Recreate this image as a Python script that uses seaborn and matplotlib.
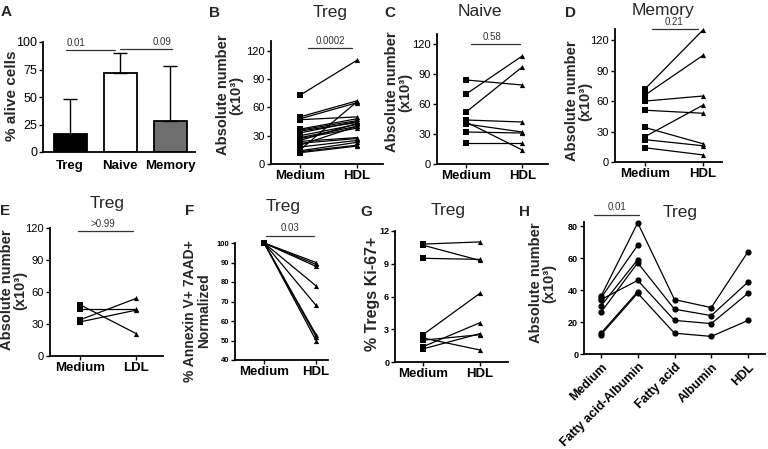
import numpy as np
import pandas as pd
import matplotlib
matplotlib.use("Agg")
import matplotlib.pyplot as plt
import seaborn as sns

sns.set_theme(style="ticks")
plt.rcParams["font.family"] = ["Liberation Sans", "DejaVu Sans"]
NARROW = ["Liberation Sans Narrow", "Liberation Sans", "DejaVu Sans"]
PLAIN = ["Liberation Sans", "DejaVu Sans"]

# ── data ──────────────────────────────────────────────────────────────────────
a_groups = ["Treg", "Naive", "Memory"]
a_mean   = [16.5, 71.5, 28.0]
a_sd     = [31.5, 18.5, 50.5]
a_colors = ["black", "white", "#6e6e6e"]

pair_cats = ["Medium", "HDL"]
ldl_cats  = ["Medium", "LDL"]

b_medium = [73, 50, 48, 47, 37, 36, 35, 33, 30, 28, 27, 25, 24, 22, 20, 18, 15, 14, 13, 12]
b_hdl    = [110, 67, 65, 50, 48, 46, 44, 45, 42, 40, 38, 43, 28, 27, 40, 25, 66, 23, 20, 19]

c_medium = [84, 70, 52, 44, 42, 40, 32, 21]
c_hdl    = [79, 108, 97, 42, 14, 32, 31, 21]

d_medium = [72, 66, 60, 51, 34, 25, 22, 14]
d_hdl    = [130, 105, 65, 48, 18, 56, 16, 7]

e_medium = [48, 44, 34, 32]
e_ldl    = [21, 44, 54, 43]

f_medium = [100, 100, 100, 100, 100, 100, 100, 100]
f_hdl    = [90, 89, 88, 78, 68, 53, 52, 50]

g_medium = [10.8, 10.7, 9.5, 2.5, 2.2, 2.0, 1.4, 1.2]
g_hdl    = [11.0, 9.3, 9.4, 6.3, 1.1, 2.5, 3.6, 2.6]

h_cats   = ["Medium", "Fatty acid-Albumin", "Fatty acid", "Albumin", "HDL"]
h_medium = [36, 35, 34, 30, 26, 13, 12]
h_faalb  = [82, 68, 46, 59, 57, 39, 38]
h_fa     = [34, np.nan, 21, np.nan, 28, np.nan, 13]
h_alb    = [29, np.nan, 19, np.nan, 24, np.nan, 11]
h_hdl    = [64, np.nan, 38, np.nan, 45, np.nan, 21]

# ── layout helpers (pixel coordinates of the 768x449 canvas) ────────────────
W, H = 768, 449
fig = plt.figure(figsize=(W / 100, H / 100), dpi=100)


def ax_at(left, right, top, bottom):
    return fig.add_axes([left / W, 1 - bottom / H, (right - left) / W, (bottom - top) / H])


def ftext(x, y, s, **kw):
    fig.text(x / W, 1 - y / H, s, ha="center", va="center", **kw)


def style(ax, xlim, ylim, yticks, tick_size=8, tick_bold=False, tick_family=NARROW):
    sns.despine(ax=ax)
    for sp in ("left", "bottom"):
        ax.spines[sp].set_linewidth(1.3)
        ax.spines[sp].set_color("black")
    ax.set_xlim(*xlim)
    ax.set_ylim(*ylim)
    ax.set_yticks(yticks)
    ax.set_xlabel("")
    ax.set_ylabel("")
    ax.tick_params(axis="both", length=3, width=1, color="black", pad=1.2)
    for lab in ax.get_yticklabels():
        lab.set_family(tick_family)
        lab.set_fontsize(tick_size)
        lab.set_fontweight("bold" if tick_bold else "normal")
        lab.set_color("black")


def set_xcats(ax, cats, size=9.5, rotation=0):
    ax.set_xticks(range(len(cats)))
    ax.set_xticklabels(cats, fontsize=size, fontweight="bold", color="black",
                       rotation=rotation, ha="right" if rotation else "center",
                       rotation_mode="anchor" if rotation else "default")


def paired(ax, first, second, cats, markers=("s", "^")):
    n = len(first)
    df = pd.DataFrame({
        "id": list(range(n)) * 2,
        "x": [0] * n + [1] * n,
        "val": list(first) + list(second),
    })
    sns.lineplot(data=df, x="x", y="val", units="id", estimator=None,
                 color="black", lw=0.9, ax=ax, legend=False)
    sns.scatterplot(x=[0] * n, y=first, marker=markers[0], s=20, color="black",
                    edgecolor="black", linewidth=0, ax=ax, zorder=3, clip_on=False)
    sns.scatterplot(x=[1] * n, y=second, marker=markers[1], s=14, color="black",
                    edgecolor="black", linewidth=0, ax=ax, zorder=3, clip_on=False)
    set_xcats(ax, cats)
    ax.tick_params(axis="x", pad=4)


def bracket(ax, x0, x1, y, text, tx, ty):
    ax.plot([x0, x1], [y, y], color="#333333", lw=0.9, clip_on=False)
    ax.text(tx, ty, text, ha="center", va="bottom", fontsize=7,
            family=NARROW, color="#333333", clip_on=False)


# ══════════════════════════════════════════════════════════════
# A  — % alive cells
# ══════════════════════════════════════════════════════════════
axA = ax_at(43, 195, 42, 152)
sns.barplot(x=a_groups, y=a_mean, hue=a_groups, palette=a_colors, legend=False,
            edgecolor="black", linewidth=1.3, width=0.66, ax=axA)
axA.errorbar(range(3), a_mean, yerr=[np.zeros(3), a_sd], fmt="none",
             ecolor="black", elinewidth=1.0, capsize=5, capthick=1.0, zorder=1)
style(axA, (-0.54, 2.5), (0, 100), [0, 25, 50, 75, 100], tick_size=9)
set_xcats(axA, a_groups)
axA.tick_params(axis="x", length=0, pad=6)
bracket(axA, -0.08, 0.9, 93, "0.01", 0.12, 94.5)
bracket(axA, 1.0, 2.04, 94, "0.09", 1.84, 95.5)
ftext(12, 96, "% alive cells", fontsize=11, fontweight="bold", rotation=90)

# ══════════════════════════════════════════════════════════════
# B  — Treg, HDL
# ══════════════════════════════════════════════════════════════
axB = ax_at(271, 383, 41.5, 164)
paired(axB, b_medium, b_hdl, pair_cats)
style(axB, (-0.51, 1.46), (0, 130), [0, 30, 60, 90, 120])
bracket(axB, 0.14, 0.91, 123, "0.0002", 0.53, 125)

# C  — Naive
axC = ax_at(437, 548, 34, 164)
paired(axC, c_medium, c_hdl, pair_cats)
style(axC, (-0.52, 1.46), (0, 130), [0, 30, 60, 90, 120])
bracket(axC, 0.09, 0.96, 120, "0.58", 0.46, 122)

# D  — Memory
axD = ax_at(615, 722, 29, 162)
paired(axD, d_medium, d_hdl, pair_cats)
style(axD, (-0.52, 1.33), (0, 131), [0, 30, 60, 90, 120])
bracket(axD, 0.12, 0.91, 131, "0.21", 0.5, 133)

# E  — Treg, LDL
axE = ax_at(50, 163, 228, 356)
paired(axE, e_medium, e_ldl, ldl_cats)
style(axE, (-0.54, 1.48), (0, 120), [0, 30, 60, 90, 120])
bracket(axE, -0.04, 0.95, 117, ">0.99", 0.41, 119)

# F  — Annexin V+ 7AAD+
axF = ax_at(235, 328, 243, 360)
paired(axF, f_medium, f_hdl, pair_cats)
style(axF, (-0.56, 1.23), (40, 100), [40, 50, 60, 70, 80, 90, 100],
      tick_size=5.5, tick_bold=True, tick_family=PLAIN)
bracket(axF, 0.04, 0.96, 103.6, "0.03", 0.5, 105)

# G  — Ki-67+
axG = ax_at(395, 508, 231, 362)
paired(axG, g_medium, g_hdl, pair_cats)
style(axG, (-0.49, 1.49), (0, 12), [0, 3, 6, 9, 12],
      tick_size=6.5, tick_bold=True, tick_family=PLAIN)

# H  — fatty acid / albumin
axH = ax_at(584, 765, 222, 354)
h_series = [h_medium, h_faalb, h_fa, h_alb, h_hdl]
n_h = len(h_medium)
df_h = pd.DataFrame({
    "id": list(range(n_h)) * len(h_cats),
    "x": np.repeat(np.arange(len(h_cats)), n_h),
    "val": np.concatenate([np.asarray(s, dtype=float) for s in h_series]),
}).dropna()
sns.lineplot(data=df_h, x="x", y="val", units="id", estimator=None,
             color="black", lw=0.9, ax=axH, legend=False)
sns.scatterplot(data=df_h, x="x", y="val", marker="o", s=20, color="black",
                linewidth=0, ax=axH, zorder=3, clip_on=False)
style(axH, (-0.46, 4.46), (0, 82.5), [0, 20, 40, 60, 80],
      tick_size=6.5, tick_bold=True, tick_family=PLAIN)
set_xcats(axH, h_cats, size=9, rotation=45)
axH.tick_params(axis="x", pad=2)
bracket(axH, -0.19, 1.03, 87, "0.01", 0.43, 88.5)

# ── y labels ─────────────────────────────────────────────────────────────────
ylab = "Absolute number\n(x10³)"
for x, y in [(230, 95), (399, 92), (579, 101), (14, 290), (543, 283)]:
    ftext(x, y, ylab, fontsize=10.5, fontweight="bold", rotation=90, linespacing=0.95)
ftext(197, 311, "% Annexin V+ 7AAD+\nNormalized", fontsize=10, fontweight="bold",
      rotation=90, linespacing=1.0)
ftext(373, 294, "% Tregs Ki-67+", fontsize=11.5, fontweight="bold", rotation=90)

# ── titles ───────────────────────────────────────────────────────────────────
for x, y, s in [(330, 13, "Treg"), (480, 11, "Naive"), (663, 10, "Memory"),
                (107, 204, "Treg"), (283, 207, "Treg"), (448, 211, "Treg"),
                (680, 213, "Treg")]:
    ftext(x, y, s, fontsize=12.5)

# ── panel letters ────────────────────────────────────────────────────────────
for x, y, s in [(6, 12, "A"), (215, 13, "B"), (390, 13, "C"), (571, 13, "D"),
                (5, 211, "E"), (190, 211, "F"), (366, 212, "G"), (525, 212, "H")]:
    ftext(x, y, s, fontsize=11, fontweight="bold")

fig.savefig("out.png", dpi=100)
